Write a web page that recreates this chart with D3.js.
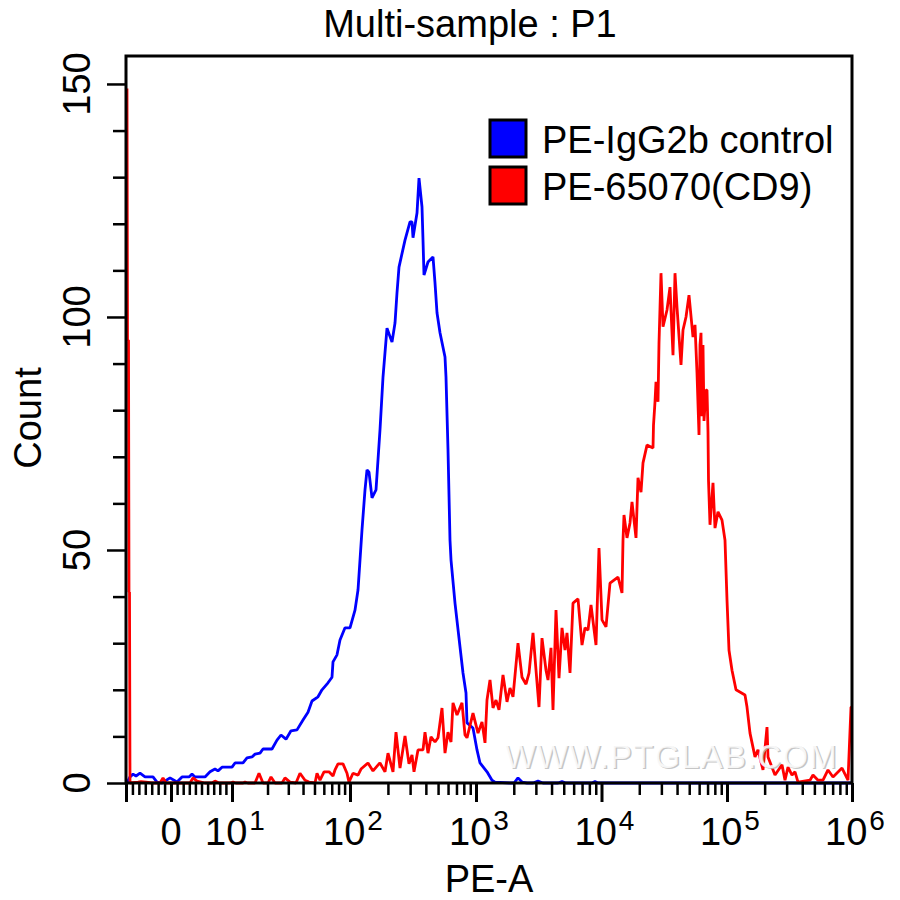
<!DOCTYPE html>
<html>
<head>
<meta charset="utf-8">
<title>Multi-sample : P1</title>
<script src="https://cdn.jsdelivr.net/npm/d3@7"></script>
<style>
  html, body { margin: 0; padding: 0; background: #fff; }
  text { font-family: "Liberation Sans", Arial, sans-serif; fill: #000; }
</style>
</head>
<body>
<div id="chart"></div>
<script>
// display channel (0-1452 across the axis) and count
var blueChannel = [2,8,14,20,28,38,54,62,72,88,102,112,126,132,138,158,168,178,184,192,212,218,234,242,252,258,268,274,292,302,310,320,330,342,354,364,372,384,392,404,412,414,422,428,438,448,458,464,472,478,482,486,492,500,508,514,522,532,538,542,546,558,568,572,574,582,586,592,594,596,604,614,618,622,628,638,640,644,648,650,658,668,674,680,682,694,702,708,722,732,738,768,776,784,792,802,814,824,834,864,872,880,932,938,944,1452];
var blueCount = [0,1.3,1.9,1.5,2.1,1.3,1.3,0.2,0,1.1,0.2,1.3,1.3,1.9,1.3,1.3,2.4,3,2.6,3.4,3.4,4.3,4.3,5.4,5.6,6.2,6.4,7.3,7.3,9.2,10.3,9.4,11.2,11.4,13.5,15.2,17.6,18.5,20,21.5,22.7,26,27.5,30.7,33.3,33.3,37.1,41.4,54.3,62.9,67.2,66.7,61.2,62.9,75.8,87.1,97.6,94.6,98.7,105.2,110.7,116.5,120.4,120.4,117,122.3,129.8,123.6,116.5,109,111.8,112.9,107.3,100.9,96.6,91.4,87.1,71.5,52.1,47.9,38.6,29.2,23.6,19.3,12.9,11.8,7.1,4.3,2.4,0.6,0.2,0,0,1.1,0.2,0,0,0.4,0,0,0.3,0,0,0.3,0,0];

var redChannel = [2,3,5,6,7,8,24,30,40,52,68,74,80,98,118,128,134,142,158,172,178,186,208,214,220,234,238,244,258,266,274,284,290,298,312,318,328,340,348,358,366,378,382,388,396,406,414,418,424,434,442,446,454,464,470,484,494,506,508,518,524,534,540,548,558,566,572,576,584,594,598,604,610,618,624,632,638,644,650,654,662,672,678,682,694,704,712,718,722,728,734,740,746,754,762,768,774,784,792,800,806,814,826,832,840,844,850,854,860,866,872,878,882,888,894,904,912,918,924,930,940,946,952,960,968,984,992,994,996,1002,1008,1012,1020,1024,1030,1034,1042,1054,1055,1058,1060,1064,1066,1070,1074,1082,1088,1094,1098,1102,1110,1114,1120,1126,1134,1138,1142,1146,1148,1150,1152,1154,1156,1160,1162,1164,1165,1168,1174,1178,1184,1192,1198,1202,1206,1212,1220,1238,1242,1248,1258,1264,1274,1282,1284,1298,1312,1318,1324,1332,1338,1344,1368,1374,1384,1394,1404,1414,1432,1444,1450,1452];
var redCount = [149,95,95,41,41,0,0.2,0.3,0.2,0,0,1.1,0,0,0,0,1.1,0.4,0,0,0.4,0,0,0.2,0,0,0.2,0,0,2.1,0,0,1.3,0,0,1.1,0.2,0,2.1,0.6,0.2,0,2.1,0.6,2.4,2.4,1.5,2.8,4.1,4.1,2.1,0.2,2.1,1.7,3,4.3,2.6,4.1,4.3,2.4,6.4,2.4,10.9,3.2,10.1,4.1,6,2.4,7.1,7.1,10.9,6.4,9.9,8.8,9.7,16.1,6.4,10.9,8.8,17.2,14.6,17.2,10.3,9.7,15,10.7,13.1,8.6,17.8,22.1,16.1,17.8,15.7,23.2,17.4,20.4,18.5,30,22.7,21.2,23.6,32.2,16.3,31.1,24.2,22.1,29,15.7,37.1,22.5,33.3,28.5,32.2,23.6,38.6,39.5,29.6,33.3,32.8,38.2,29.6,50.4,35,33.5,42.9,44.2,40.8,52.1,57.5,52.6,55.8,60.3,52.6,65.5,62.4,68.7,72.5,71.9,76.8,81.8,86.1,81.8,94.4,109.4,97.9,101.5,106.4,91.8,109.4,102.1,89.7,97.2,100,104.7,95.7,98.3,88,74.7,94,96.6,78.7,94,77.7,84.3,84.3,75.3,65,55.4,64.4,54.7,58.2,56.4,52.1,39.3,28.5,24.2,20,18.9,16.3,10.7,5.6,7.1,2.8,12,5.6,1.7,3.9,0.6,3.4,1.7,2.4,0.2,0.6,1.7,0.6,0.6,2.8,1.3,3.2,0.6,16.3,16.3];

var legendLabels = ["PE-IgG2b control", "PE-65070(CD9)"];
var seriesColors = ["#0000ff", "#ff0000"];
var yMajorTicks = [0, 50, 100, 150];
var yMinorTicks = [10, 20, 30, 40, 60, 70, 80, 90, 110, 120, 130, 140];
var xLowTicks = [-6, -5, -4, -3, -2, -1, 1, 2, 3, 4, 5, 6, 7, 8, 9];
var xLongTicks = [-7, 0, 10, 100, 1000, 10000, 100000, 1000000];
var xDecadeMultiples = [2, 3, 4, 5, 6, 7, 8, 9];
var xDecades = [10, 100, 1000, 10000, 100000];
var xLabelled = [[0, "0", ""], [10, "10", "1"], [100, "10", "2"], [1000, "10", "3"], [10000, "10", "4"], [100000, "10", "5"], [1000000, "10", "6"]];

var width = 900, height = 900;
var plotLeft = 126, plotRight = 852, plotTop = 56, plotBottom = 783;

var svg = d3.select("#chart").append("svg")
  .attr("width", width)
  .attr("height", height)
  .style("display", "block");

var xScale = d3.scaleLinear().domain([0, 1452]).range([plotLeft, plotRight]);
var yScale = d3.scaleLinear().domain([0, 156]).range([plotBottom, plotTop]);

// biexponential display: linear around zero, log from 10 up
var lowToChannel = d3.scaleLinear().domain([-7, 0, 10]).range([0, 90, 212]);
var logToChannel = d3.scaleLog()
  .domain([10, 100, 1000, 10000, 100000, 1000000])
  .range([212, 448, 700, 951, 1202, 1452]);
function channelOf(v) { return v <= 10 ? lowToChannel(v) : logToChannel(v); }

var line = d3.line()
  .x(function(d) { return xScale(d[0]); })
  .y(function(d) { return yScale(d[1]); });

svg.append("path")
  .datum(d3.zip(blueChannel, blueCount))
  .attr("d", line)
  .attr("fill", "none")
  .attr("stroke", seriesColors[0])
  .attr("stroke-linejoin", "bevel")
  .attr("stroke-width", 2.8);

svg.append("path")
  .datum(d3.zip(redChannel, redCount))
  .attr("d", line)
  .attr("fill", "none")
  .attr("stroke", seriesColors[1])
  .attr("stroke-linejoin", "bevel")
  .attr("stroke-width", 2.8);

// watermark
var mark = svg.append("g").attr("font-size", 33);
mark.append("text").attr("x", 506).attr("y", 769)
  .attr("textLength", 332).style("fill", "#b8b8b8").style("opacity", 0.8)
  .text("WWW.PTGLAB.COM");
mark.append("text").attr("x", 504.5).attr("y", 767.5)
  .attr("textLength", 332).style("fill", "#fff").style("opacity", 0.85)
  .text("WWW.PTGLAB.COM");

// frame
svg.append("rect")
  .attr("x", plotLeft).attr("y", plotTop)
  .attr("width", plotRight - plotLeft).attr("height", plotBottom - plotTop)
  .attr("fill", "none").attr("stroke", "#000").attr("stroke-width", 3);

function styleAxis(g, w) {
  g.select(".domain").remove();
  g.selectAll(".tick line").attr("stroke", "#000").attr("stroke-width", w);
}

// y axis
svg.append("g").attr("transform", "translate(" + plotLeft + ",0)")
  .call(d3.axisLeft(yScale).tickValues(yMinorTicks).tickSize(13).tickFormat(""))
  .call(styleAxis, 2.5);
svg.append("g").attr("transform", "translate(" + plotLeft + ",0)")
  .call(d3.axisLeft(yScale).tickValues(yMajorTicks).tickSize(19).tickFormat(""))
  .call(styleAxis, 2.5);

svg.selectAll(".ylab").data(yMajorTicks).enter().append("text")
  .attr("class", "ylab")
  .attr("transform", function(d) { return "translate(90," + yScale(d) + ") rotate(-90)"; })
  .attr("text-anchor", "middle")
  .attr("font-size", 38)
  .text(function(d) { return d; });

// x axis
var xMinor = xLowTicks.map(channelOf);
xDecades.forEach(function(dec) {
  xDecadeMultiples.forEach(function(m) { xMinor.push(channelOf(dec * m)); });
});
svg.append("g").attr("transform", "translate(0," + plotBottom + ")")
  .call(d3.axisBottom(xScale).tickValues(xMinor).tickSize(12).tickFormat(""))
  .call(styleAxis, 2.5);
svg.append("g").attr("transform", "translate(0," + plotBottom + ")")
  .call(d3.axisBottom(xScale).tickValues(xLongTicks.map(channelOf)).tickSize(19).tickFormat(""))
  .call(styleAxis, 3);

var xlab = svg.selectAll(".xlab").data(xLabelled).enter().append("text")
  .attr("class", "xlab")
  .attr("x", function(d) { return xScale(channelOf(d[0])) + (d[2] ? 3 : 0); })
  .attr("y", 845)
  .attr("text-anchor", "middle")
  .attr("font-size", 38);
xlab.append("tspan").text(function(d) { return d[1]; });
xlab.append("tspan")
  .attr("dy", -15).attr("dx", 2).attr("font-size", 28)
  .text(function(d) { return d[2]; });

// titles
svg.append("text").attr("x", 470).attr("y", 37)
  .attr("text-anchor", "middle").attr("font-size", 38)
  .text("Multi-sample : P1");
svg.append("text").attr("x", 489).attr("y", 892)
  .attr("text-anchor", "middle").attr("font-size", 38)
  .text("PE-A");
svg.append("text")
  .attr("transform", "translate(41,418) rotate(-90)")
  .attr("text-anchor", "middle").attr("font-size", 38)
  .text("Count");

// legend
var legend = svg.selectAll(".legend").data(legendLabels).enter().append("g")
  .attr("class", "legend")
  .attr("transform", function(d, i) { return "translate(0," + (i * 47) + ")"; });
legend.append("rect")
  .attr("x", 490).attr("y", 120)
  .attr("width", 36).attr("height", 37)
  .attr("fill", function(d, i) { return seriesColors[i]; })
  .attr("stroke", "#000").attr("stroke-width", 3);
legend.append("text")
  .attr("x", 542).attr("y", 153)
  .attr("font-size", 38)
  .text(function(d) { return d; });
</script>
</body>
</html>
